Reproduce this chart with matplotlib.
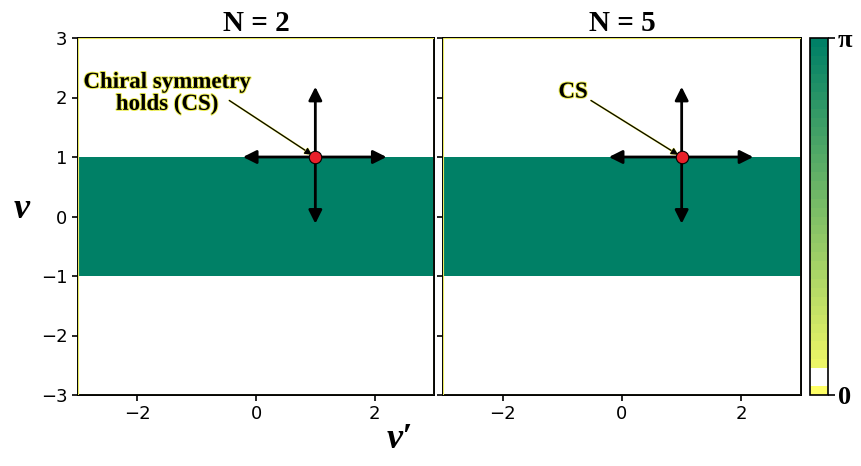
import numpy as np
import matplotlib
matplotlib.use("Agg")
import matplotlib.pyplot as plt
import matplotlib.patheffects as pe
from matplotlib.colors import ListedColormap
from matplotlib.patches import Rectangle

# Phase diagram in the (v', v) plane: band |v| < 1 carries phase pi
v_prime_edges = [-3.0, 3.0]
v_edges = [-3.0, -1.0, 1.0, 3.0]
band_phase = [np.nan, np.pi, np.nan]

panel_titles = ["N = 2", "N = 5"]
panel_notes = ["Chiral symmetry\nholds (CS)", "CS"]
note_xy = [(-1.5, 2.07), (-0.82, 2.09)]
note_tail = [(-0.45, 1.95), (-0.52, 1.95)]

cs_point = (1.0, 1.0)
arrow_tips = [(1.0, 2.18), (1.0, -0.12), (-0.22, 1.0), (2.2, 1.0)]

x_ticks = [-2, 0, 2]
y_ticks = [-3, -2, -1, 0, 1, 2, 3]

# summer_r with a thin white gap just above zero
base = plt.cm.summer_r(np.linspace(0, 1, 40))
base[1:3] = [1, 1, 1, 1]
cmap = ListedColormap(base)

serif = ["Liberation Serif", "DejaVu Serif"]

fig = plt.figure(figsize=(8.62, 4.66), dpi=100)
ax1 = fig.add_axes([78 / 862, 1 - 395 / 466, 356 / 862, 357 / 466])
ax2 = fig.add_axes([443 / 862, 1 - 395 / 466, 358 / 862, 357 / 466])
cax = fig.add_axes([810 / 862, 1 - 395 / 466, 18 / 862, 357 / 466])

glow = [pe.withStroke(linewidth=1.4, foreground="#eded50")]

for i, ax in enumerate([ax1, ax2]):
    Z = np.array(band_phase).reshape(-1, 1)
    mesh = ax.pcolormesh(v_prime_edges, v_edges, Z, cmap=cmap, vmin=0, vmax=np.pi)
    ax.add_patch(Rectangle((-3, -3), 6, 6, fill=False, edgecolor="#e8e860",
                           lw=0.8, zorder=3))
    ax.set_xlim(-3, 3)
    ax.set_ylim(-3, 3)
    ax.set_xticks(x_ticks)
    ax.set_yticks(y_ticks)
    ax.tick_params(labelsize=13, length=4, width=1.2)
    for s in ax.spines.values():
        s.set_linewidth(1.4)
    if i == 1:
        ax.set_yticklabels([])
    ax.set_title(panel_titles[i], fontsize=21, fontweight="bold", family=serif, pad=5)

    # directions away from the chiral-symmetric point
    for tip in arrow_tips:
        ax.annotate("", xy=tip, xytext=cs_point,
                    arrowprops=dict(arrowstyle="-|>", color="black", lw=2,
                                    mutation_scale=20, shrinkA=0, shrinkB=0),
                    zorder=4)
    ax.plot(*cs_point, "o", color="#e8202a", markeredgecolor="black",
            markeredgewidth=0.8, markersize=9, zorder=6)

    ax.annotate("", xy=cs_point, xytext=note_tail[i],
                arrowprops=dict(arrowstyle="-|>", color="black", lw=0.9,
                                mutation_scale=10, shrinkA=0, shrinkB=3,
                                path_effects=glow),
                zorder=5)
    ax.text(*note_xy[i], panel_notes[i], ha="center", va="center",
            fontsize=16.5, fontweight="bold", family=serif, linespacing=1.05,
            path_effects=glow, zorder=7)

cb = fig.colorbar(mesh, cax=cax, ticks=[0, np.pi])
cb.ax.set_yticklabels(["0", "π"], fontsize=19, fontweight="bold", family=serif)
cb.ax.tick_params(length=5, width=1.2, pad=2)
cb.outline.set_linewidth(1.2)

fig.text(22 / 862, 1 - 210 / 466, "ν", fontsize=26, fontweight="bold",
         style="italic", family=serif, ha="center", va="center")
fig.text(400 / 862, 1 - 440 / 466, "ν′", fontsize=26, fontweight="bold",
         style="italic", family=serif, ha="center", va="center")

fig.savefig("out.png", dpi=100)
